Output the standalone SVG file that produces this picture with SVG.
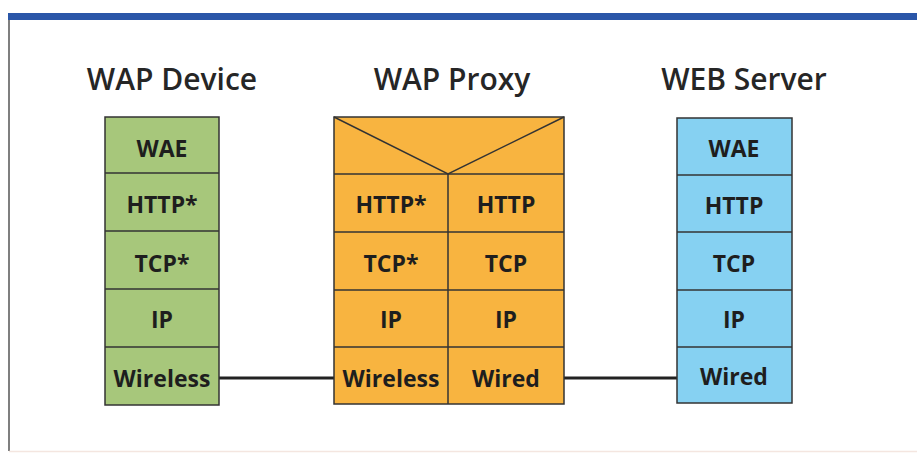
<svg xmlns="http://www.w3.org/2000/svg" width="917" height="453" viewBox="0 0 917 453">
<style>
.t{font-family:"Open Sans","Liberation Sans",sans-serif;font-weight:600;font-size:30px;fill:#262626;text-anchor:middle}
.l{font-family:"Open Sans","Liberation Sans",sans-serif;font-weight:700;font-size:23px;fill:#1e1e1e;text-anchor:middle}
.c{stroke:#333;stroke-width:1.5}
.g{fill:#a7c77b}
.o{fill:#f8b440}
.b{fill:#86d1f2}
</style>
<rect x="0" y="0" width="917" height="453" fill="#fff"/>
<rect x="8" y="13" width="909" height="7" fill="#2a56a8"/>
<line x1="9" y1="20" x2="9" y2="451" stroke="#555" stroke-width="1.5"/>
<line x1="9" y1="451.5" x2="917" y2="451.5" stroke="#f4e6e0" stroke-width="1.5"/>
<text class="t" x="172" y="90">WAP Device</text>
<text class="t" x="452" y="90">WAP Proxy</text>
<text class="t" x="744" y="90">WEB Server</text>
<g id="connectors" stroke="#222" stroke-width="2.8">
<line x1="219" y1="378" x2="334" y2="378"/>
<line x1="564" y1="378" x2="677" y2="378"/>
</g>
<g id="wap-device">
<rect class="g c" x="105" y="117" width="114" height="288"/>
<line class="c" x1="105" y1="173" x2="219" y2="173"/>
<line class="c" x1="105" y1="231" x2="219" y2="231"/>
<line class="c" x1="105" y1="289" x2="219" y2="289"/>
<line class="c" x1="105" y1="347" x2="219" y2="347"/>
<text class="l" x="162" y="157">WAE</text>
<text class="l" x="162" y="213">HTTP*</text>
<text class="l" x="162" y="272">TCP*</text>
<text class="l" x="162" y="328">IP</text>
<text class="l" x="162" y="387">Wireless</text>
</g>
<g id="wap-proxy">
<rect class="o c" x="334" y="117" width="230" height="287"/>
<line class="c" x1="334" y1="174" x2="564" y2="174"/>
<line class="c" x1="334" y1="232" x2="564" y2="232"/>
<line class="c" x1="334" y1="290" x2="564" y2="290"/>
<line class="c" x1="334" y1="347" x2="564" y2="347"/>
<line class="c" x1="448" y1="174" x2="448" y2="404"/>
<polyline class="c" fill="none" points="334,117 448,174 564,117"/>
<text class="l" x="391" y="213">HTTP*</text>
<text class="l" x="506" y="213">HTTP</text>
<text class="l" x="391" y="272">TCP*</text>
<text class="l" x="506" y="272">TCP</text>
<text class="l" x="391" y="328">IP</text>
<text class="l" x="506" y="328">IP</text>
<text class="l" x="391" y="387">Wireless</text>
<text class="l" x="506" y="387">Wired</text>
</g>
<g id="web-server">
<rect class="b c" x="677" y="118" width="115" height="285"/>
<line class="c" x1="677" y1="175" x2="792" y2="175"/>
<line class="c" x1="677" y1="232" x2="792" y2="232"/>
<line class="c" x1="677" y1="290" x2="792" y2="290"/>
<line class="c" x1="677" y1="347" x2="792" y2="347"/>
<text class="l" x="734" y="157">WAE</text>
<text class="l" x="734" y="214">HTTP</text>
<text class="l" x="734" y="272">TCP</text>
<text class="l" x="734" y="328">IP</text>
<text class="l" x="734" y="385">Wired</text>
</g>
</svg>
